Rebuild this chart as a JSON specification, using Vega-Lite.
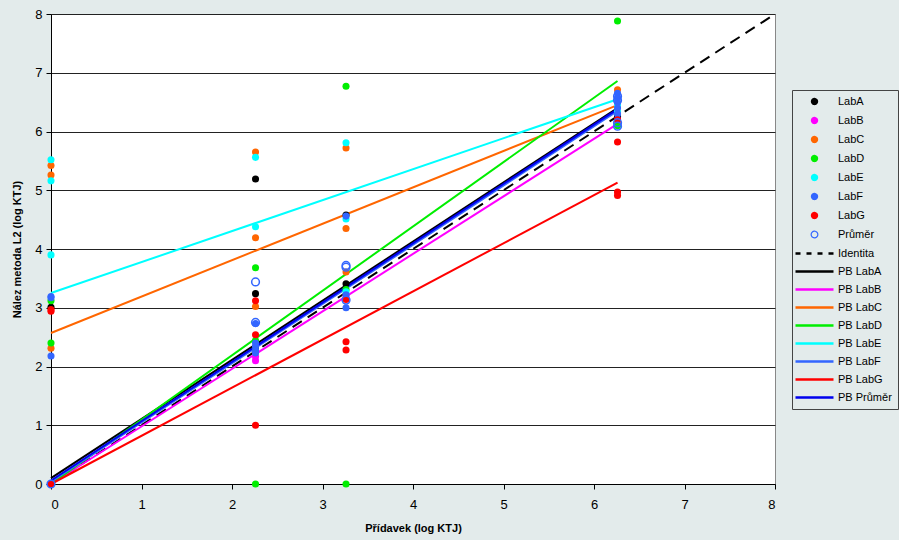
{
  "$schema": "https://vega.github.io/schema/vega-lite/v6.json",
  "width": 724,
  "height": 470,
  "autosize": {"type": "none"},
  "padding": {"left": 51, "top": 14, "right": 124, "bottom": 56},
  "background": "#e3ebeb",
  "config": {
    "font": "Liberation Sans",
    "view": {"stroke": "#888888", "strokeWidth": 1, "fill": "white"},
    "axis": {
      "labelFont": "Liberation Sans",
      "labelFontSize": 13,
      "labelColor": "black",
      "titleFont": "Liberation Sans",
      "titleFontSize": 11,
      "titleFontWeight": "bold",
      "titleColor": "black",
      "domainColor": "black",
      "tickColor": "black",
      "tickSize": 5
    }
  },
  "datasets": {
    "points": [
      {"series": "LabA", "x": 0, "y": 3.01}, {"series": "LabA", "x": 0, "y": 0},
      {"series": "LabA", "x": 2.26, "y": 5.19}, {"series": "LabA", "x": 2.26, "y": 3.24}, {"series": "LabA", "x": 2.26, "y": 2.30},
      {"series": "LabA", "x": 3.26, "y": 4.58}, {"series": "LabA", "x": 3.26, "y": 3.41},
      {"series": "LabA", "x": 6.26, "y": 6.25},
      {"series": "LabB", "x": 0, "y": 0},
      {"series": "LabB", "x": 2.26, "y": 2.17}, {"series": "LabB", "x": 2.26, "y": 2.10},
      {"series": "LabB", "x": 3.26, "y": 3.20},
      {"series": "LabB", "x": 6.26, "y": 6.20},
      {"series": "LabC", "x": 0, "y": 5.42}, {"series": "LabC", "x": 0, "y": 5.26}, {"series": "LabC", "x": 0, "y": 2.31},
      {"series": "LabC", "x": 2.26, "y": 5.65}, {"series": "LabC", "x": 2.26, "y": 4.19}, {"series": "LabC", "x": 2.26, "y": 3.02},
      {"series": "LabC", "x": 3.26, "y": 5.72}, {"series": "LabC", "x": 3.26, "y": 4.35}, {"series": "LabC", "x": 3.26, "y": 3.61},
      {"series": "LabC", "x": 6.26, "y": 6.71}, {"series": "LabC", "x": 6.26, "y": 6.18},
      {"series": "LabD", "x": 0, "y": 3.12}, {"series": "LabD", "x": 0, "y": 2.40}, {"series": "LabD", "x": 0, "y": 0},
      {"series": "LabD", "x": 2.26, "y": 3.68}, {"series": "LabD", "x": 2.26, "y": 2.44}, {"series": "LabD", "x": 2.26, "y": 0},
      {"series": "LabD", "x": 3.26, "y": 6.77}, {"series": "LabD", "x": 3.26, "y": 3.31}, {"series": "LabD", "x": 3.26, "y": 0},
      {"series": "LabD", "x": 6.26, "y": 7.88}, {"series": "LabD", "x": 6.26, "y": 6.10},
      {"series": "LabE", "x": 0, "y": 5.52}, {"series": "LabE", "x": 0, "y": 5.16}, {"series": "LabE", "x": 0, "y": 3.90},
      {"series": "LabE", "x": 2.26, "y": 5.56}, {"series": "LabE", "x": 2.26, "y": 4.38},
      {"series": "LabE", "x": 3.26, "y": 5.81}, {"series": "LabE", "x": 3.26, "y": 4.51}, {"series": "LabE", "x": 3.26, "y": 3.27},
      {"series": "LabE", "x": 6.26, "y": 6.45}, {"series": "LabE", "x": 6.26, "y": 6.34},
      {"series": "LabF", "x": 0, "y": 3.19}, {"series": "LabF", "x": 0, "y": 3.17}, {"series": "LabF", "x": 0, "y": 2.18}, {"series": "LabF", "x": 0, "y": 0},
      {"series": "LabF", "x": 2.26, "y": 2.73}, {"series": "LabF", "x": 2.26, "y": 2.40}, {"series": "LabF", "x": 2.26, "y": 2.34}, {"series": "LabF", "x": 2.26, "y": 2.28}, {"series": "LabF", "x": 2.26, "y": 2.23},
      {"series": "LabF", "x": 3.26, "y": 4.56}, {"series": "LabF", "x": 3.26, "y": 3.22}, {"series": "LabF", "x": 3.26, "y": 3.00},
      {"series": "LabF", "x": 6.26, "y": 6.65}, {"series": "LabF", "x": 6.26, "y": 6.58}, {"series": "LabF", "x": 6.26, "y": 6.50}, {"series": "LabF", "x": 6.26, "y": 6.40}, {"series": "LabF", "x": 6.26, "y": 6.30},
      {"series": "LabG", "x": 0, "y": 2.97}, {"series": "LabG", "x": 0, "y": 2.94}, {"series": "LabG", "x": 0, "y": 0},
      {"series": "LabG", "x": 2.26, "y": 3.12}, {"series": "LabG", "x": 2.26, "y": 2.54}, {"series": "LabG", "x": 2.26, "y": 1.00},
      {"series": "LabG", "x": 3.26, "y": 3.14}, {"series": "LabG", "x": 3.26, "y": 2.42}, {"series": "LabG", "x": 3.26, "y": 2.28},
      {"series": "LabG", "x": 6.26, "y": 6.20}, {"series": "LabG", "x": 6.26, "y": 5.82}, {"series": "LabG", "x": 6.26, "y": 4.97}, {"series": "LabG", "x": 6.26, "y": 4.91}
    ],
    "mean": [
      {"series": "Průměr", "x": 0, "y": 0},
      {"series": "Průměr", "x": 2.26, "y": 3.44}, {"series": "Průměr", "x": 2.26, "y": 2.75},
      {"series": "Průměr", "x": 3.26, "y": 3.72}, {"series": "Průměr", "x": 3.26, "y": 3.69}, {"series": "Průměr", "x": 3.26, "y": 3.13},
      {"series": "Průměr", "x": 6.26, "y": 6.60}, {"series": "Průměr", "x": 6.26, "y": 6.53}, {"series": "Průměr", "x": 6.26, "y": 6.15}, {"series": "Průměr", "x": 6.26, "y": 6.09}
    ],
    "lines": [
      {"series": "PB LabA", "x": 0, "y": 0.10}, {"series": "PB LabA", "x": 6.26, "y": 6.40},
      {"series": "PB LabB", "x": 0, "y": 0}, {"series": "PB LabB", "x": 6.26, "y": 6.13},
      {"series": "PB LabC", "x": 0, "y": 2.57}, {"series": "PB LabC", "x": 6.26, "y": 6.45},
      {"series": "PB LabD", "x": 0, "y": 0}, {"series": "PB LabD", "x": 6.26, "y": 6.86},
      {"series": "PB LabE", "x": 0, "y": 3.25}, {"series": "PB LabE", "x": 6.26, "y": 6.55},
      {"series": "PB LabF", "x": 0, "y": 0.04}, {"series": "PB LabF", "x": 6.26, "y": 6.35},
      {"series": "PB LabG", "x": 0, "y": 0}, {"series": "PB LabG", "x": 6.26, "y": 5.13},
      {"series": "PB Průměr", "x": 0, "y": 0.06}, {"series": "PB Průměr", "x": 6.26, "y": 6.38}
    ],
    "identity": [
      {"series": "Identita", "x": 0, "y": 0}, {"series": "Identita", "x": 8, "y": 8}
    ]
  },
  "encoding": {
    "x": {
      "field": "x", "type": "quantitative",
      "scale": {"domain": [0, 8], "nice": false},
      "axis": {"values": [0, 1, 2, 3, 4, 5, 6, 7, 8], "grid": false, "title": "Přídavek (log KTJ)", "labelPadding": 9, "titlePadding": 11}
    },
    "y": {
      "field": "y", "type": "quantitative",
      "scale": {"domain": [0, 8], "nice": false},
      "axis": {"values": [0, 1, 2, 3, 4, 5, 6, 7, 8], "grid": true, "gridColor": "#222222", "gridOpacity": 1, "title": "Nález metoda L2 (log KTJ)", "labelPadding": 4, "titlePadding": 12}
    },
    "color": {
      "field": "series", "type": "nominal",
      "scale": {
        "domain": ["LabA", "LabB", "LabC", "LabD", "LabE", "LabF", "LabG", "Průměr", "Identita", "PB LabA", "PB LabB", "PB LabC", "PB LabD", "PB LabE", "PB LabF", "PB LabG", "PB Průměr"],
        "range": ["#000000", "#ff00ff", "#ff6600", "#00ee00", "#00ffff", "#3366ff", "#ff0000", "#3366ff", "#000000", "#000000", "#ff00ff", "#ff6600", "#00ee00", "#00ffff", "#3366ff", "#ff0000", "#0000ee"]
      },
      "legend": {
        "title": null,
        "orient": "none",
        "legendX": 741,
        "legendY": 76,
        "padding": 6,
        "strokeColor": "#444444",
        "labelFont": "Liberation Sans",
        "labelFontSize": 11,
        "labelColor": "black",
        "labelOffset": 18,
        "symbolOffset": 11,
        "rowPadding": 6,
        "labelExpr": "datum.label + '            '",
        "encode": {
          "symbols": {
            "update": {
              "shape": {"signal": "test(/^(PB|Identita)/, datum.label) ? 'stroke' : 'circle'"},
              "size": {"signal": "test(/^(PB|Identita)/, datum.label) ? 1444 : test(/^Pr/, datum.label) ? 44 : 34"},
              "fill": {"signal": "scale('color', datum.value)"},
              "fillOpacity": {"signal": "test(/^(PB|Identita|Pr)/, datum.label) ? 0 : 1"},
              "stroke": {"signal": "scale('color', datum.value)"},
              "strokeOpacity": {"value": 1},
              "strokeWidth": {"signal": "test(/^(PB|Identita)/, datum.label) ? 2.5 : test(/^Pr/, datum.label) ? 1.2 : 1.5"},
              "strokeDash": {"signal": "datum.label === 'Identita' ? [5, 6] : [1, 0]"},
              "opacity": {"value": 1}
            }
          }
        }
      }
    }
  },
  "layer": [
    {
      "data": {"name": "identity"},
      "mark": {"type": "line", "strokeWidth": 2, "strokeDash": [11, 7], "clip": true},
      "encoding": {}
    },
    {
      "data": {"name": "lines"},
      "mark": {"type": "line", "strokeWidth": 2},
      "encoding": {"detail": {"field": "series"}}
    },
    {
      "data": {"name": "points"},
      "mark": {"type": "point", "filled": true, "size": 50, "opacity": 1},
      "encoding": {}
    },
    {
      "data": {"name": "mean"},
      "mark": {"type": "point", "filled": false, "size": 60, "strokeWidth": 1.5, "opacity": 1},
      "encoding": {}
    }
  ]
}
